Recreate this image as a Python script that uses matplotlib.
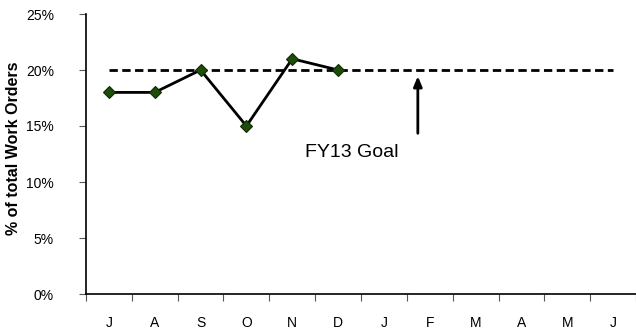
import matplotlib.pyplot as plt
from matplotlib.ticker import FixedLocator, NullFormatter

plt.rcParams["font.family"] = ["Liberation Sans", "DejaVu Sans"]

months = ["J", "A", "S", "O", "N", "D", "J", "F", "M", "A", "M", "J"]
actual = [18, 18, 20, 15, 21, 20]
goal = 20

fig = plt.figure(figsize=(6.36, 3.33), dpi=100)
ax = fig.add_axes([86 / 636, 39 / 333, 550 / 636, 280 / 333])

x = list(range(len(months)))

# goal line across the whole fiscal year
ax.plot(x, [goal] * len(months), color="black", lw=2, ls=(0, (3, 1.6)))

# monthly results so far
ax.plot(x[:len(actual)], actual, color="black", lw=2, marker="D",
        markersize=6, markerfacecolor="#1e4d0a", markeredgecolor="#0f2a05",
        markeredgewidth=0.8, zorder=3)

ax.annotate("", xy=(6.74, goal - 0.3), xytext=(6.74, 14.1),
            arrowprops=dict(arrowstyle="-|>,head_width=0.25,head_length=0.6",
                            color="black", lw=2))
ax.text(4.28, 12.6, "FY13 Goal", fontsize=14, va="center", ha="left")

ax.set_xlim(-0.5, len(months) - 0.5)
ax.set_ylim(0, 25)
ax.set_yticks([0, 5, 10, 15, 20, 25])
ax.set_yticklabels([f"{v}%" for v in [0, 5, 10, 15, 20, 25]], fontsize=10)

ax.xaxis.set_major_locator(FixedLocator([i - 0.5 for i in range(len(months) + 1)]))
ax.xaxis.set_major_formatter(NullFormatter())
ax.xaxis.set_minor_locator(FixedLocator(x))
ax.set_xticklabels(months, minor=True, fontsize=10)
ax.tick_params(axis="x", which="minor", length=0, pad=16)
ax.tick_params(axis="x", which="major", length=5, color="#555555")
ax.tick_params(axis="y", length=5, color="#555555", pad=18)
for lab in ax.get_yticklabels():
    lab.set_horizontalalignment("right")

ax.spines["top"].set_visible(False)
ax.spines["right"].set_visible(False)
ax.spines["left"].set_linewidth(1.2)
ax.spines["bottom"].set_linewidth(1.2)

ax.set_ylabel("% of total Work Orders", fontsize=11.5, fontweight="bold")
ax.yaxis.set_label_coords(-65 / 550, 0.52)

fig.savefig("out.png", dpi=100)
